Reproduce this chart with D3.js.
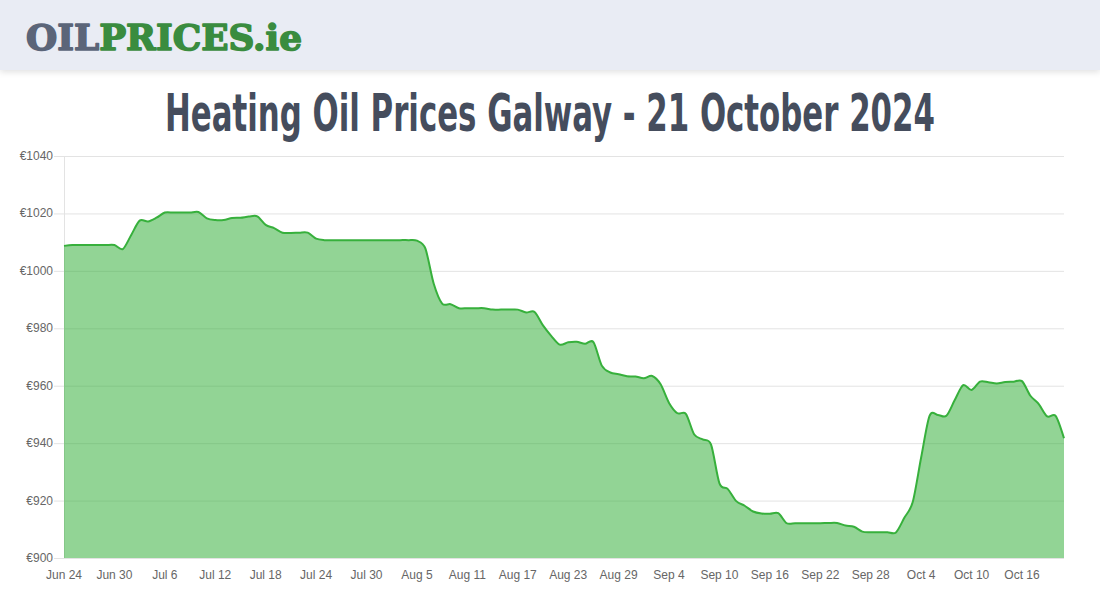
<!DOCTYPE html>
<html>
<head>
<meta charset="utf-8">
<script src="https://cdn.jsdelivr.net/npm/d3@7"></script>
<style>
  html, body { margin: 0; padding: 0; background: #fff; }
  svg { display: block; }
</style>
</head>
<body>
<svg id="chart" width="1100" height="600"></svg>
<script>
// ---- data ----
const startDate = "2024-06-24";
const dayCount = 120; // Jun 24 .. Oct 21
const prices = [
  1008.7, 1009.0, 1009.0, 1009.0, 1009.0, 1009.0, 1009.0, 1007.6, 1012.5, 1017.5,
  1017.2, 1018.5, 1020.3, 1020.3, 1020.3, 1020.3, 1020.5, 1018.3, 1017.7, 1017.7,
  1018.4, 1018.5, 1018.9, 1019.0, 1016.0, 1014.9, 1013.3, 1013.2, 1013.3, 1013.3,
  1011.2, 1010.7, 1010.7, 1010.7, 1010.7, 1010.7, 1010.7, 1010.7, 1010.7, 1010.7,
  1010.7, 1010.7, 1010.5, 1007.8, 995.5, 988.6, 988.4, 987.0, 987.0, 987.0,
  987.0, 986.5, 986.5, 986.5, 986.5, 985.5, 985.7, 981.0, 977.3, 974.3,
  975.1, 975.3, 974.6, 975.2, 967.0, 964.6, 964.0, 963.3, 963.2, 962.6,
  963.4, 960.5, 954.0, 950.4, 950.2, 943.0, 941.3, 939.5, 926.0, 924.0,
  919.8, 918.2, 916.2, 915.5, 915.4, 915.6, 912.1, 912.1, 912.1, 912.1,
  912.1, 912.2, 912.2, 911.3, 910.9, 909.2, 909.0, 909.0, 909.0, 908.9,
  914.0, 919.5, 935.0, 949.5, 949.8, 949.5, 955.0, 960.2, 958.5, 961.4,
  961.2, 960.8, 961.3, 961.4, 961.6, 956.5, 953.6, 949.3, 949.5, 941.7
];
const yTicks = [900, 920, 940, 960, 980, 1000, 1020, 1040];
const xTickLabels = ["Jun 24", "Jun 30", "Jul 6", "Jul 12", "Jul 18", "Jul 24", "Jul 30",
  "Aug 5", "Aug 11", "Aug 17", "Aug 23", "Aug 29", "Sep 4", "Sep 10", "Sep 16",
  "Sep 22", "Sep 28", "Oct 4", "Oct 10", "Oct 16"];
const xTickEvery = 6;
const titleText = "Heating Oil Prices Galway - 21 October 2024";

// ---- chart ----
const svg = d3.select("#chart");
const W = 1100, H = 600;
const plot = { left: 64, right: 1064, top: 156, bottom: 558 };

// header band
const defs = svg.append("defs");
const f = defs.append("filter").attr("id", "shadow").attr("x", "-5%").attr("y", "-20%").attr("width", "110%").attr("height", "160%");
f.append("feDropShadow").attr("dx", 0).attr("dy", 2).attr("stdDeviation", 3).attr("flood-color", "#000").attr("flood-opacity", 0.12);
svg.append("rect").attr("x", 0).attr("y", 0).attr("width", W).attr("height", 70)
  .attr("fill", "#e9ecf4").attr("filter", "url(#shadow)");

const logo = svg.append("text")
  .attr("x", 26).attr("y", 50)
  .attr("font-family", "'DejaVu Serif', serif")
  .attr("font-weight", "bold")
  .attr("font-size", 36)
  .attr("stroke-width", 1.6)
  .attr("stroke-linejoin", "round");
logo.append("tspan").attr("fill", "#5b6579").attr("stroke", "#5b6579").text("OIL");
logo.append("tspan").attr("fill", "#3a8c3f").attr("stroke", "#3a8c3f").text("PRICES.ie");
const lw = logo.node().getComputedTextLength();
logo.attr("font-size", 36 * 276 / lw);

// title (condensed horizontally to the reference width)
const titleG = svg.append("g");
const title = titleG.append("text")
  .attr("x", 0).attr("y", 0)
  .attr("text-anchor", "middle")
  .attr("font-family", "'DejaVu Sans Condensed', 'DejaVu Sans', sans-serif")
  .attr("font-size", 51)
  .attr("font-weight", "bold")
  .attr("fill", "#454d5d")
  .text(titleText);
const tw = title.node().getComputedTextLength();
titleG.attr("transform", `translate(550,131) scale(${770 / tw},1)`);

const x = d3.scaleLinear().domain([0, dayCount - 1]).range([plot.left, plot.right]);
const y = d3.scaleLinear().domain([900, 1040]).range([plot.bottom, plot.top]);

const data = prices.map((v, i) => ({ i, v }));

// grid
const g = svg.append("g");
g.selectAll("line.grid").data(yTicks).enter().append("line")
  .attr("x1", plot.left - 10).attr("x2", plot.right)
  .attr("y1", d => y(d) + 0.5).attr("y2", d => y(d) + 0.5)
  .attr("stroke", "#e3e3e3").attr("stroke-width", 1);
g.append("line")
  .attr("x1", plot.left + 0.5).attr("x2", plot.left + 0.5)
  .attr("y1", plot.top).attr("y2", plot.bottom)
  .attr("stroke", "#e3e3e3");

// y labels
g.selectAll("text.ylab").data(yTicks).enter().append("text")
  .attr("x", plot.left - 11).attr("y", d => y(d) + 4)
  .attr("text-anchor", "end")
  .attr("font-family", "'Liberation Sans', Arial, sans-serif")
  .attr("font-size", 12).attr("fill", "#666")
  .text(d => "€" + d);

// x labels
const xIdx = xTickLabels.map((_, k) => k * xTickEvery);
g.selectAll("text.xlab").data(xTickLabels).enter().append("text")
  .attr("x", (d, k) => x(xIdx[k])).attr("y", 579)
  .attr("text-anchor", "middle")
  .attr("font-family", "'Liberation Sans', Arial, sans-serif")
  .attr("font-size", 12).attr("fill", "#666")
  .text(d => d);

const curve = d3.curveCardinal.tension(0.1);
const area = d3.area().x(d => x(d.i)).y0(plot.bottom).y1(d => y(d.v)).curve(curve);
const line = d3.line().x(d => x(d.i)).y(d => y(d.v)).curve(curve);

svg.append("path").datum(data).attr("d", area).attr("fill", "rgba(55,176,60,0.545)");
svg.append("path").datum(data).attr("d", line).attr("fill", "none")
  .attr("stroke", "#37b03c").attr("stroke-width", 2);
</script>
</body>
</html>
